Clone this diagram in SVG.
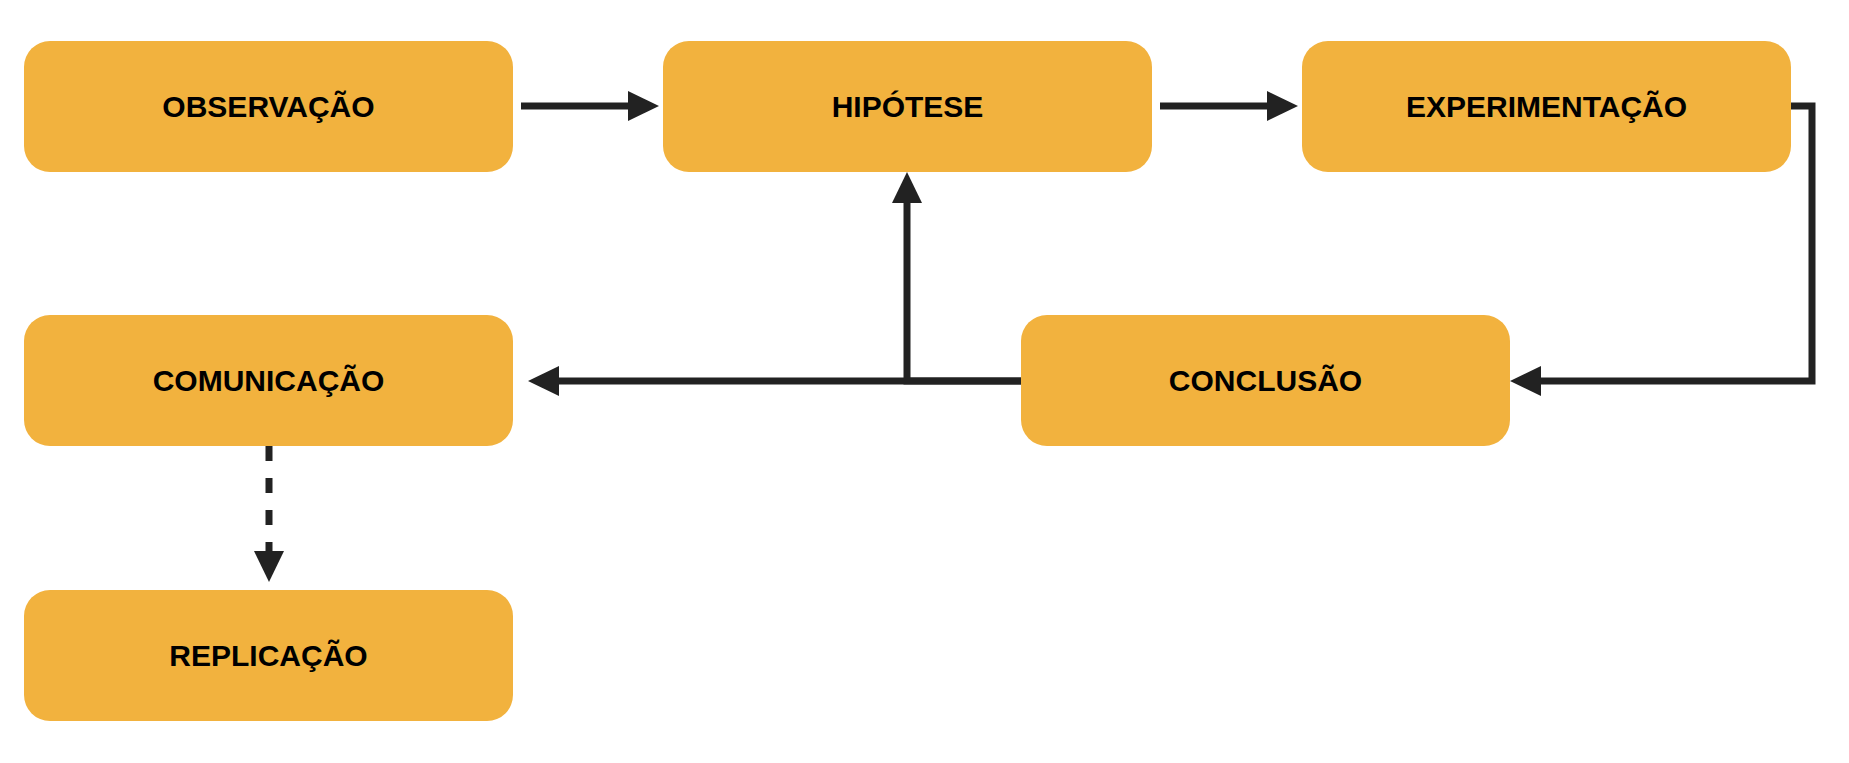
<svg xmlns="http://www.w3.org/2000/svg" width="1849" height="763" viewBox="0 0 1849 763">
  <defs>
    <style>
      .box { fill: #F2B23E; }
      .label { font-family: "Liberation Sans", Arial, Helvetica, sans-serif; font-size: 30px; font-weight: bold; fill: #000000; text-anchor: middle; }
      .conn { fill: none; stroke: #222222; stroke-width: 7; }
      .dashed { stroke-dasharray: 15 17; }
    </style>
    <marker id="arrow" markerUnits="userSpaceOnUse" markerWidth="31" markerHeight="30" refX="0" refY="15" orient="auto" viewBox="0 0 31 30">
      <path d="M0,0 L31,15 L0,30 Z" fill="#222222"/>
    </marker>
  </defs>
  <rect width="1849" height="763" fill="#FFFFFF"/>

  <g id="connectors">
    <path class="conn" d="M521,106 H628" marker-end="url(#arrow)"/>
    <path class="conn" d="M1160,106 H1267" marker-end="url(#arrow)"/>
    <path class="conn" d="M1791,106 H1812 V381 H1541" marker-end="url(#arrow)"/>
    <path class="conn" d="M1021,381 H559" marker-end="url(#arrow)"/>
    <path class="conn" d="M1021,381 H907 V203" marker-end="url(#arrow)"/>
    <path class="conn dashed" d="M269,446 V551" marker-end="url(#arrow)"/>
  </g>

  <g id="observacao">
    <rect class="box" x="24" y="41" width="489" height="131" rx="26"/>
    <text class="label" x="268.5" y="117">OBSERVAÇÃO</text>
  </g>
  <g id="hipotese">
    <rect class="box" x="663" y="41" width="489" height="131" rx="26"/>
    <text class="label" x="907.5" y="117">HIPÓTESE</text>
  </g>
  <g id="experimentacao">
    <rect class="box" x="1302" y="41" width="489" height="131" rx="26"/>
    <text class="label" x="1546.5" y="117">EXPERIMENTAÇÃO</text>
  </g>
  <g id="comunicacao">
    <rect class="box" x="24" y="315" width="489" height="131" rx="26"/>
    <text class="label" x="268.5" y="391">COMUNICAÇÃO</text>
  </g>
  <g id="conclusao">
    <rect class="box" x="1021" y="315" width="489" height="131" rx="26"/>
    <text class="label" x="1265.5" y="391">CONCLUSÃO</text>
  </g>
  <g id="replicacao">
    <rect class="box" x="24" y="590" width="489" height="131" rx="26"/>
    <text class="label" x="268.5" y="666">REPLICAÇÃO</text>
  </g>
</svg>
